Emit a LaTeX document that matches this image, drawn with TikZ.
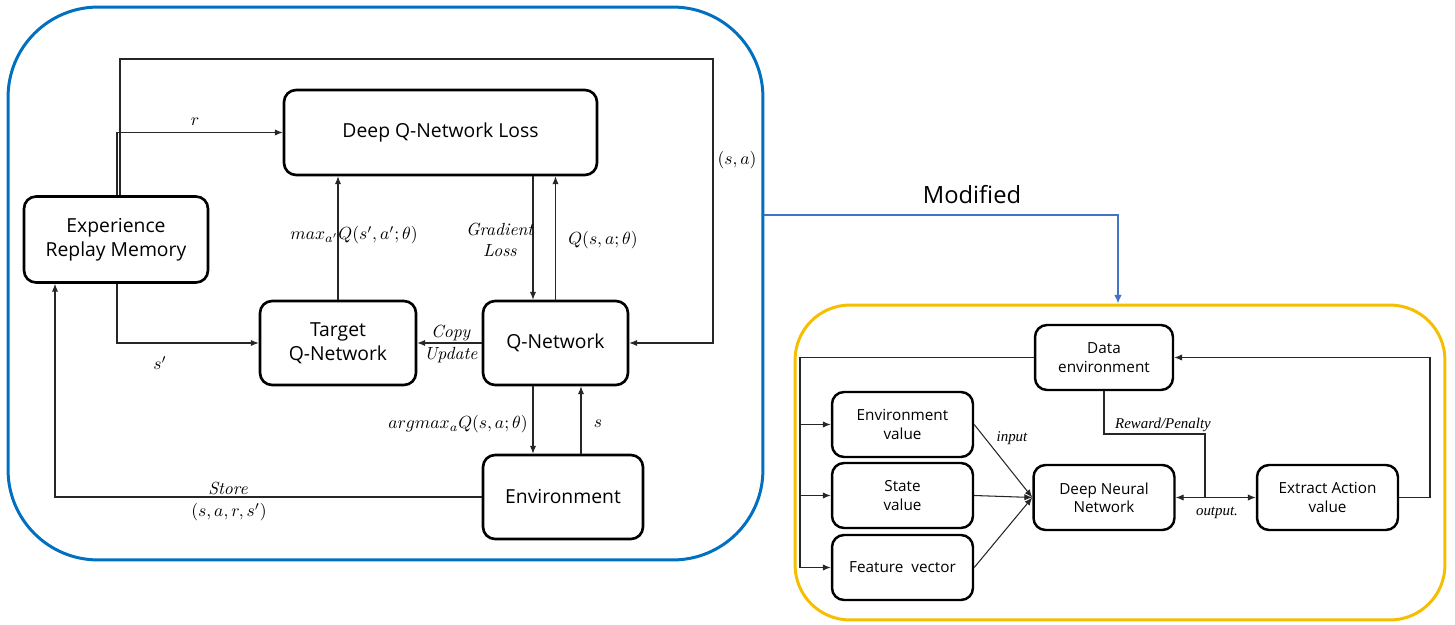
\documentclass[tikz,border=0pt]{standalone}
\usepackage{fontspec}
\setsansfont{Open Sans}
\newfontfamily\timesfont{Liberation Serif}
\usetikzlibrary{arrows.meta}
\definecolor{dqnblue}{RGB}{0,112,192}
\definecolor{modgold}{RGB}{246,190,0}
\definecolor{modarrow}{RGB}{68,114,196}
\tikzset{
  panel/.style={draw, line width=1.7pt},
  box/.style={draw, line width=1.5pt, rounded corners=0.24cm, align=center,
    inner sep=2pt, font=\sffamily\fontsize{11}{13.5}\selectfont},
  smallbox/.style={box, line width=1.4pt, minimum width=2.82cm, minimum height=1.3cm,
    font=\sffamily\fontsize{8.7}{10.5}\selectfont},
  link/.style={draw, black!85, line width=0.6pt, >={Latex[length=4.5pt,width=3.6pt]}},
  modlink/.style={draw, modarrow, line width=1.3pt, >={Latex[length=5pt,width=4.5pt]}},
  lbl/.style={inner sep=1pt, font=\fontsize{10}{12}\selectfont},
  tlbl/.style={inner sep=1pt, font=\timesfont\itshape\fontsize{8.5}{10}\selectfont},
}
\begin{document}
\begin{tikzpicture}[x=0.02cm, y=-0.02cm]
    \useasboundingbox (0,0) rectangle (1455,625);

    % the two panels
    \node[panel, draw=dqnblue, rounded corners=1.8cm, minimum width=15.1cm, minimum height=11.06cm] (dqnpanel) at (385.5,283.5) {};
    \node[panel, draw=modgold, rounded corners=1.1cm, minimum width=13cm, minimum height=6.3cm] (modpanel) at (1120,462.5) {};

    % deep Q-network
    \node[box, minimum width=6.26cm, minimum height=1.7cm] (loss) at (440.5,132.5) {Deep Q-Network Loss};
    \node[box, minimum width=3.68cm, minimum height=1.72cm] (memory) at (116,239.5) {Experience\\Replay Memory};
    \node[box, minimum width=3.12cm, minimum height=1.68cm] (target) at (338,343) {Target\\Q-Network};
    \node[box, minimum width=2.9cm, minimum height=1.68cm] (qnet) at (555.5,343) {Q-Network};
    \node[box, minimum width=3.2cm, minimum height=1.68cm] (env) at (563,497) {Environment};

    \coordinate (loopnw) at (120,59);
    \coordinate (loopne) at (713,59);
    \coordinate (storecorner) at (55,497);

    \path[link,->] (loopnw |- memory.north) -- (loopnw) -- (loopne) |- (qnet.east);
    \path[link,->] ([xshift=0.02cm]memory.north) |- (loss.west);
    \path[link,->] ([xshift=0.02cm]memory.south) |- (target.west);
    \path[link,->] (env.west) -- (storecorner) -- (storecorner |- memory.south);
    \path[link,->] (target.north) -- (target.north |- loss.south);
    \path[link,->] ([xshift=-0.45cm]qnet.north |- loss.south) -- ([xshift=-0.45cm]qnet.north);
    \path[link,->] (qnet.north) -- (qnet.north |- loss.south);
    \path[link,->] (qnet.west) -- (target.east);
    \path[link,->] ([xshift=-0.45cm]qnet.south) -- ([xshift=-0.45cm]qnet.south |- env.north);
    \path[link,->] ([xshift=0.51cm]qnet.south |- env.north) -- ([xshift=0.51cm]qnet.south);

    \node[lbl] (lr) at (195,122) {$r$};
    \node[lbl] (lsp) at (160,363) {$s'$};
    \node[lbl] (lsa) at (737,160) {$(s,a)$};
    \node[lbl] (lmax) at (354,235) {$max_{a'}Q(s',a';\theta)$};
    \node[lbl, align=center] (lgrad) at (500,240) {\textit{Gradient}\\\textit{Loss}};
    \node[lbl] (lq) at (603,240) {$Q(s,a;\theta)$};
    \node[lbl] (lcopy) at (451,333) {\textit{Copy}};
    \node[lbl] (lupdate) at (451,355) {\textit{Update}};
    \node[lbl] (largmax) at (458,424) {$argmax_aQ(s,a;\theta)$};
    \node[lbl] (ls) at (598,424) {$s$};
    \node[lbl] (lstore) at (228,488) {\textit{Store}};
    \node[lbl] (ltuple) at (229,512) {$(s,a,r,s')$};

    % modified version
    \node[smallbox, minimum width=2.76cm] (data) at (1104,357.5) {Data\\environment};
    \node[smallbox] (envval) at (902.5,424.5) {Environment\\value};
    \node[smallbox] (state) at (902.5,495.5) {State\\value};
    \node[smallbox] (feature) at (902.5,567.5) {Feature\ \ vector};
    \node[smallbox] (dnn) at (1104,497.5) {Deep Neural\\Network};
    \node[smallbox] (extract) at (1327.5,497.5) {Extract Action\\value};

    \coordinate (bus) at (800,357.5);
    \coordinate (rpcorner) at (1205,434);
    \coordinate (backcorner) at (1430,497.5);

    \path[link,->] (data.west) -- (bus) |- (feature.west);
    \path[link,->] (bus |- envval.west) -- (envval.west);
    \path[link,->] (bus |- state.west) -- (state.west);
    \path[link,->] (envval.east) -- (dnn.west);
    \path[link,->] (state.east) -- (dnn.west);
    \path[link,->] (feature.east) -- (dnn.west);
    \path[link] (data.south) |- (rpcorner) -- (rpcorner |- dnn.east);
    \path[link,<->] (dnn.east) -- (extract.west);
    \path[link,->] (extract.east) -- (backcorner) |- (data.east);

    \node[tlbl] (linput) at (1012,438) {input};
    \node[tlbl] (lreward) at (1163,425) {Reward/Penalty};
    \node[tlbl] (loutput) at (1217,513) {output.};

    % link between the panels
    \coordinate (modturn) at (1118,215);
    \path[modlink,->] (dqnpanel.east |- modturn) -- (modturn) -- (modturn |- modpanel.north);
    \node[font=\sffamily\fontsize{13.5}{16}\selectfont] (lmod) at (972,195) {Modified};
\end{tikzpicture}
\end{document}
